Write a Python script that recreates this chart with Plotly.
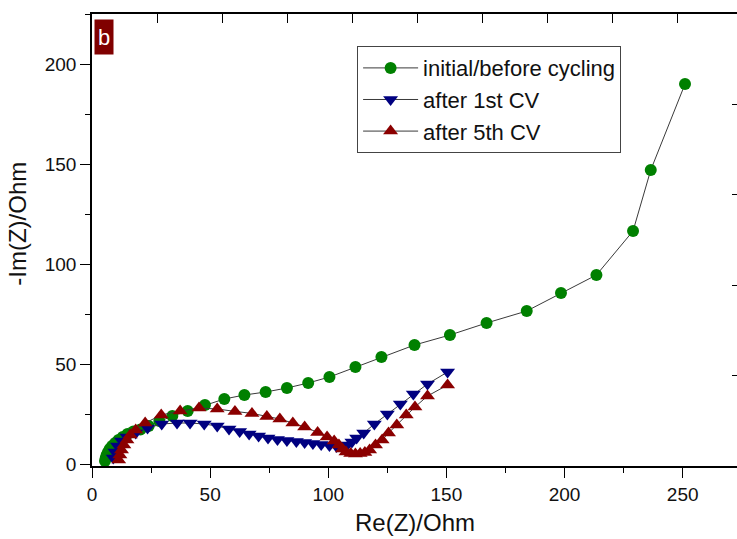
import plotly.graph_objects as go

# ---- data ----
green_x = [5.5, 5.8, 6.2, 6.8, 7.5, 8.5, 9.8, 11.2, 13, 15, 17.5, 20.5, 24, 28.5, 34, 40.5,
           47.8, 56, 64.5, 73.5, 82.5, 91.5, 100.5, 111.5, 122.5, 136.5, 151.5, 167, 184,
           198.5, 213.5, 229, 236.5, 251]
green_y = [1.5, 3, 4.5, 6, 7.5, 9, 10.5, 12, 13.5, 15, 16.2, 17.2, 19, 21.5, 24, 26.5,
           29.5, 32.5, 34.5, 36, 38, 40.5, 43.5, 48.5, 53.5, 59.5, 64.5, 70.5, 76.5,
           85.5, 94.5, 116.5, 147, 190]

blue_x = [9, 9.7, 10.8, 12.5, 14.8, 18.5, 23.5, 29.5, 36, 41.5, 47.5, 53, 58, 62.5, 66.5,
          70.5, 74.5, 78.5, 82.5, 86.5, 90, 93.5, 97, 100.5, 103.5, 106, 108, 110, 112,
          115, 119.5, 125, 130.5, 136, 142, 150.5]
blue_y = [3, 6, 9, 11.5, 13.5, 15.5, 18, 20, 20.5, 20.5, 20, 19, 17.5, 16.3, 15,
          14, 13, 12.3, 11.8, 11.3, 10.8, 10.3, 9.8, 9.3, 8.8, 8.6, 9.5, 11, 13,
          15.5, 20, 25, 30, 35, 40, 46]

red_x = [11.3, 11.8, 12.5, 13.5, 14.8, 16.2, 18.5, 22.5, 29.3, 37.3, 45.3, 53, 60.5, 67.7,
         74, 79.5, 85, 90, 95.5, 99.5, 102.5, 104.5, 106, 107.5, 109.5, 111.5, 113.5,
         115.5, 117.5, 120, 122.8, 125.5, 129, 133, 136.7, 142, 150.5]
red_y = [2, 4.5, 7, 9.5, 12, 14.5, 17, 20.5, 24.5, 26.5, 28, 27.5, 26.3, 25.3,
         23.8, 22.5, 20.5, 18.5, 15.8, 13.5, 11.5, 9.5, 7.5, 6, 5.3, 5, 5.2,
         5.8, 7, 9.5, 12, 15.5, 19.5, 24.5, 28.5, 34, 39.5]

names = ["initial/before cycling", "after 1st CV", "after 5th CV"]

FONT = "Liberation Sans, Arial, sans-serif"
LINE = "#3a3a3a"

fig = go.Figure()
fig.add_trace(go.Scatter(x=green_x, y=green_y, name=names[0], mode="lines+markers",
                         line=dict(color=LINE, width=1),
                         marker=dict(symbol="circle", size=12, color="#008000")))
fig.add_trace(go.Scatter(x=blue_x, y=blue_y, name=names[1], mode="lines+markers",
                         line=dict(color=LINE, width=1),
                         marker=dict(symbol="triangle-down", size=13, color="#000080")))
fig.add_trace(go.Scatter(x=red_x, y=red_y, name=names[2], mode="lines+markers",
                         line=dict(color=LINE, width=1),
                         marker=dict(symbol="triangle-up", size=13, color="#8B0000")))
# empty trace to activate the top/right tick-only axes
fig.add_trace(go.Scatter(x=[None], y=[None], xaxis="x2", yaxis="y2", showlegend=False,
                         hoverinfo="skip"))

fig.update_layout(
    width=737, height=539,
    margin=dict(l=92, r=0, t=14, b=73),
    paper_bgcolor="white", plot_bgcolor="white",
    font=dict(family=FONT, color="#111"),
    showlegend=True,
    legend=dict(x=0.411, y=0.929, xanchor="left", yanchor="top",
                bgcolor="white", bordercolor="#444", borderwidth=1,
                font=dict(size=22, family=FONT, color="#111"),
                tracegroupgap=0, itemwidth=55),
    xaxis=dict(range=[0, 273], showgrid=False, zeroline=False,
               showline=True, linecolor="black", linewidth=1.5,
               ticks="outside", ticklen=10, tickwidth=1.3, tickcolor="black",
               tick0=0, dtick=50, tickfont=dict(size=19),
               minor=dict(ticks="outside", ticklen=5, tickwidth=1.3, tickcolor="black", dtick=25)),
    yaxis=dict(range=[-1, 225], showgrid=False, zeroline=False,
               showline=True, linecolor="black", linewidth=1.5,
               ticks="outside", ticklen=10, tickwidth=1.3, tickcolor="black",
               tick0=0, dtick=50, tickfont=dict(size=19),
               minor=dict(ticks="outside", ticklen=5, tickwidth=1.3, tickcolor="black", dtick=25)),
    xaxis2=dict(overlaying="x", side="top", anchor="y", range=[0, 9.923],
                showgrid=False, zeroline=False, showline=True, linecolor="black", linewidth=1.5,
                ticks="inside", ticklen=9, tickwidth=1.3, tickcolor="black",
                tick0=0, dtick=1, showticklabels=False),
    yaxis2=dict(overlaying="y", side="right", anchor="x", range=[0, 5],
                showgrid=False, zeroline=False, showline=False,
                ticks="inside", ticklen=5, tickwidth=1.3, tickcolor="black",
                tick0=0, dtick=1, showticklabels=False),
    annotations=[
        dict(text="Re(Z)/Ohm", xref="paper", yref="paper", x=0.5, y=0,
             xanchor="center", yanchor="middle", yshift=-56, showarrow=False,
             font=dict(size=24, family=FONT, color="#111")),
        dict(text="-Im(Z)/Ohm", xref="paper", yref="paper", x=0, y=0.536,
             xanchor="center", yanchor="middle", xshift=-74, textangle=-90, showarrow=False,
             font=dict(size=24, family=FONT, color="#111")),
        dict(text="b", xref="paper", yref="paper", x=0.003, y=0.989,
             xanchor="left", yanchor="top", showarrow=False,
             bgcolor="#800000", width=14, height=30, borderpad=2,
             font=dict(size=22, family=FONT, color="white")),
    ],
)

fig.write_html("out.html")
